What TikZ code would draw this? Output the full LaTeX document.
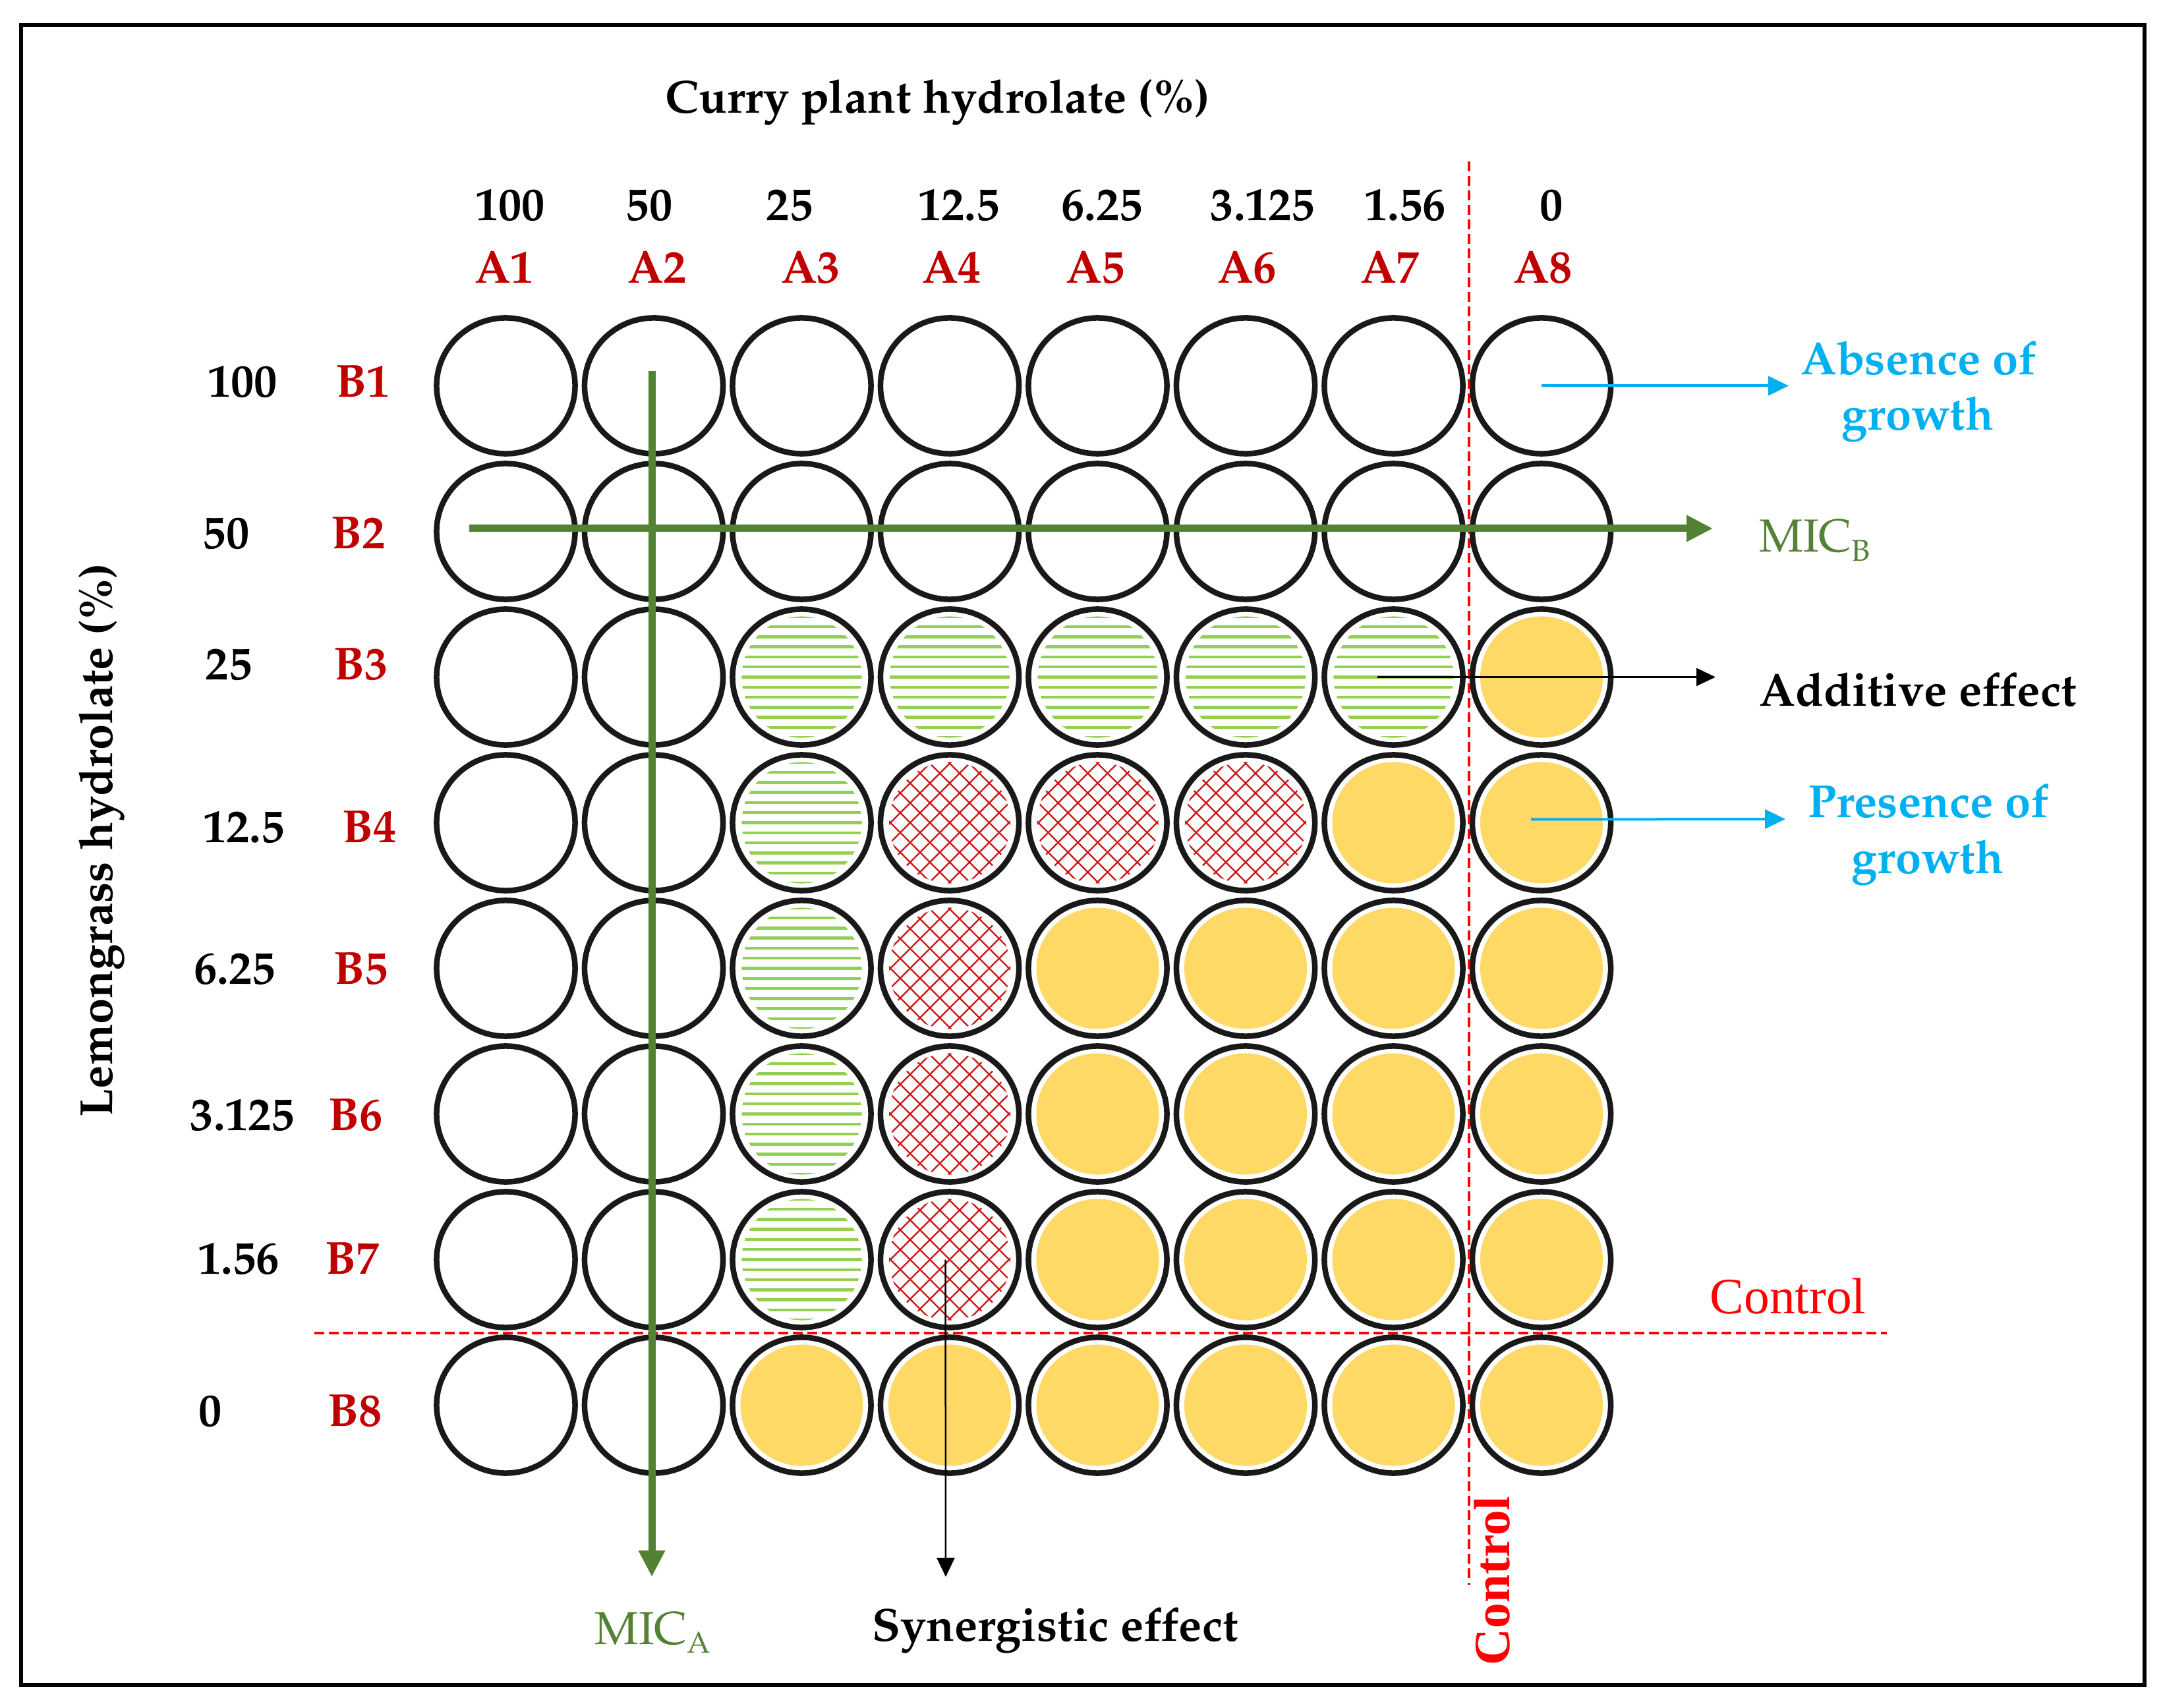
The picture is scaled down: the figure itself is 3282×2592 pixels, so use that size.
\documentclass[tikz,border=0pt]{standalone}
\usepackage[T1]{fontenc}
\usepackage{fontspec}
\usetikzlibrary{arrows.meta,shapes.geometric}
\newfontfamily\ctlfont{Liberation Serif}
\newcommand\pb{\fontencoding{T1}\fontfamily{ppl}\fontseries{b}\fontshape{n}\fontsize{20}{24}\selectfont}
\newcommand\pr{\fontencoding{T1}\fontfamily{ppl}\fontseries{m}\fontshape{n}\fontsize{20}{24}\selectfont}
\newcommand\subx[1]{\raisebox{-3.7pt}{\fontsize{13}{13}\selectfont #1}}
\definecolor{micg}{RGB}{84,130,53}
\definecolor{dred}{RGB}{192,0,0}
\definecolor{cblue}{RGB}{0,176,240}
\definecolor{wyel}{RGB}{255,217,102}
\definecolor{hgreen}{RGB}{146,208,80}
\definecolor{xred}{RGB}{205,20,20}
\definecolor{ctrlred}{RGB}{255,0,0}
\tikzset{
 well/.style={ellipse, draw=black!90, line width=0.085cm, minimum width=2.10cm, minimum height=2.06cm, inner sep=0pt},
 lbl/.style={anchor=base, inner sep=0pt, font=\pb},
 rlbl/.style={lbl, text=dred},
 bluelbl/.style={lbl, text=cblue},
 miclbl/.style={anchor=base west, inner sep=0pt, font=\pr, text=micg},
 ctrllbl/.style={anchor=base, inner sep=0pt, font={\ctlfont\fontsize{22}{26}\selectfont}, text=ctrlred},
 micarrow/.style={draw=micg, line width=0.11cm, -{Triangle[length=0.40cm,width=0.38cm]}},
 bluearrow/.style={draw=cblue, line width=0.04cm, -{Triangle[length=0.31cm,width=0.29cm]}},
 blkarrow/.style={draw=black, line width=0.025cm, -{Triangle[length=0.29cm,width=0.27cm]}},
 ctrlline/.style={draw=ctrlred, line width=0.04cm, dash pattern=on 0.15cm off 0.07cm},
 hatchg/.style={draw=hgreen, line width=0.045cm},
 xhatch/.style={draw=xred, line width=0.022cm},
}
\begin{document}
\begin{tikzpicture}[x=0.01cm,y=-0.01cm]
\useasboundingbox (0,0) rectangle (3282,2592);
\draw[line width=0.055cm] (32,38) rectangle (3254,2557);

% wells
\foreach \c in {1,...,8}{\foreach \r in {1,...,8}{
  \node[well] (w-\c-\r) at ({767.5+(\c-1)*224.5},{585.5+(\r-1)*221}) {};
}}

% presence of growth (yellow)
\foreach \c/\r in {8/3,7/4,8/4,5/5,6/5,7/5,8/5,5/6,6/6,7/6,8/6,5/7,6/7,7/7,8/7,3/8,4/8,5/8,6/8,7/8,8/8}{
  \fill[wyel] (w-\c-\r.center) ellipse [x radius=0.93cm, y radius=0.92cm];
}

% additive (green lines)
\foreach \c/\r in {3/3,4/3,5/3,6/3,7/3,3/4,3/5,3/6,3/7}{
  \begin{scope}
    \clip (w-\c-\r.center) ellipse [x radius=0.91cm, y radius=0.92cm];
    \foreach \k in {-6,...,6}{\draw[hatchg] ([shift={(-100,\k*15.3)}]w-\c-\r.center) -- ++(200,0);}
  \end{scope}
}

% synergistic (red cross-hatch)
\foreach \c/\r in {4/4,5/4,6/4,4/5,4/6,4/7}{
  \begin{scope}
    \clip (w-\c-\r.center) circle [radius=0.92cm];
    \foreach \k in {-8,...,8}{
      \draw[xhatch] ([shift={(15*\k-130,15*\k+130)}]w-\c-\r.center) -- ++(260,-260);
      \draw[xhatch] ([shift={(15*\k-130,-15*\k-130)}]w-\c-\r.center) -- ++(260,260);
    }
  \end{scope}
}

% control lines
\coordinate (cvtop) at (2229,245);
\coordinate (cvbot) at (2229,2405);
\coordinate (chl) at (477,2023);
\coordinate (chr) at (2863,2023);
\draw[ctrlline] (cvtop) -- (cvbot);
\draw[ctrlline] (chl) -- (chr);

% MIC arrows
\coordinate (micAtip) at (989,2393);
\coordinate (micBtip) at (2599,802);
\coordinate (micAstart) at (989,563);
\coordinate (micBstart) at (712,802);
\draw[micarrow] (micAstart) -- (micAtip);
\draw[micarrow] (micBstart) -- (micBtip);

% annotation arrows
\coordinate (absTip) at (2714,590);
\coordinate (preTip) at (2709,1243);
\coordinate (addTip) at (2603,1027);
\coordinate (synTip) at (1435,2393);
\draw[bluearrow] (w-8-1.center) -- (w-8-1.center -| absTip);
\draw[bluearrow] ([xshift=-0.16cm,yshift=0.05cm]w-8-4.center) -- (preTip);
\draw[blkarrow] ([xshift=-0.25cm]w-7-3.center) -- (w-7-3.center -| addTip);
\draw[blkarrow] ([xshift=-0.065cm]w-4-7.center) -- (synTip);

% titles
\node[lbl] (title) at (1423,172) {Curry plant hydrolate (\%)};
\node[lbl, rotate=90] (ylab) at (170,1275) {Lemongrass hydrolate (\%)};

% column labels
\foreach \x/\t [count=\i] in {774/100,985/50,1198/25,1455/12.5,1672/6.25,1916/3.125,2132/1.56,2354/0}{
  \node[lbl] (cn\i) at (\x,335) {\t};
}
\foreach \x [count=\i] in {765,997,1230,1444,1662,1892,2109,2341}{
  \node[rlbl] (A\i) at (\x,430) {A\i};
}

% row labels
\foreach \x/\y/\t [count=\i] in {368/603/100,343/833/50,347/1032/25,370/1278/12.5,356/1493/6.25,368/1715/3.125,362/1933/1.56,319/2164/0}{
  \node[lbl] (rn\i) at (\x,\y) {\t};
}
\foreach \x/\y [count=\i] in {551/603,544/833,548/1032,561/1278,548/1493,540/1715,535/1933,539/2164}{
  \node[rlbl] (B\i) at (\x,\y) {B\i};
}

% legend texts
\node[miclbl] (micA) at (902,2495) {MIC\subx{A}};
\node[miclbl] (micB) at (2669,838) {MIC\subx{B}};
\node[lbl] (syn) at (1601,2490) {Synergistic effect};
\node[lbl] (add) at (2910,1072) {Additive effect};
\node[bluelbl] (abs1) at (2911,569) {Absence of};
\node[bluelbl] (abs2) at (2910,653) {growth};
\node[bluelbl] (pre1) at (2926,1240) {Presence of};
\node[bluelbl] (pre2) at (2925,1325) {growth};
\node[ctrllbl] (ctlh) at (2713,1993) {Control};
\node[ctrllbl, rotate=90, font={\ctlfont\bfseries\fontsize{22}{26}\selectfont}] (ctlv) at (2290,2399) {Control};
\end{tikzpicture}
\end{document}
